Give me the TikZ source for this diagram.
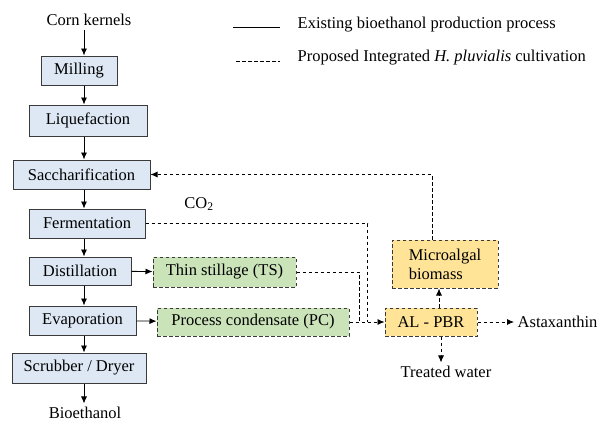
\documentclass[tikz,border=0pt]{standalone}
\usepackage{fontspec}
\setmainfont{Liberation Serif}
\usetikzlibrary{arrows.meta}

\definecolor{procblue}{HTML}{DDE8F4}
\definecolor{sidegreen}{HTML}{CBE3B9}
\definecolor{algyellow}{HTML}{FFE497}
\definecolor{edgegray}{HTML}{3A3A3A}

\begin{document}
\begin{tikzpicture}[x=1pt,y=-1pt,->,>={Latex[length=7pt,width=6pt]},line width=0.8pt,
  every node/.style={font=\rmfamily\fontsize{16.5}{19}\selectfont},
  prop/.style={dash pattern=on 3.5pt off 2.5pt},
  proc/.style={draw=edgegray,line width=1pt,fill=procblue,minimum height=29pt,inner sep=0pt},
  side/.style={draw=edgegray,line width=1pt,prop,fill=sidegreen,minimum height=29pt,inner sep=0pt},
  alga/.style={draw=edgegray,line width=1pt,prop,fill=algyellow,inner sep=0pt}]
  \useasboundingbox (0,0) rectangle (599,423);
  \coordinate (spine) at (84,0);

  % existing process
  \node (corn) at (89,20) {Corn kernels};
  \node[proc,minimum width=76pt] (mill) at (79,70.5) {Milling};
  \node[proc,minimum width=118pt,minimum height=31pt] (liq) at (88,120.5) {Liquefaction};
  \node[proc,minimum width=137pt] (sacc) at (81.5,174.5) {Saccharification};
  \node[proc,minimum width=116pt] (ferm) at (87,223.5) {Fermentation};
  \node[proc,minimum width=102pt,minimum height=28pt] (dist) at (80,271) {Distillation};
  \node[proc,minimum width=107pt] (evap) at (82.5,320.5) {Evaporation};
  \node[proc,minimum width=134pt,minimum height=30pt] (scrub) at (79,368) {Scrubber / Dryer};
  \node (bioeth) at (85,413) {Bioethanol};

  % proposed integration
  \node[side,minimum width=143pt,minimum height=30pt] (ts) at (224.5,272) {Thin stillage (TS)};
  \node[side,minimum width=192pt,minimum height=28pt] (pc) at (253,322) {Process condensate (PC)};
  \node[alga,minimum width=92pt,minimum height=28pt] (alpbr) at (431,322) {AL - PBR};
  \node[alga,minimum width=106pt,minimum height=48pt,align=left] (micro) at (445,264) {Microalgal\\biomass};
  \node[anchor=west] (asta) at (514,322) {Astaxanthin};
  \node (water) at (446,372) {Treated water};
  \node (co2) at (199,204) {CO\textsubscript{2}};

  % legend
  \draw[-] (233,27) -- (280,27);
  \node[anchor=west] (legexist) at (294,25) {Existing bioethanol production process};
  \draw[-,prop] (236,61) -- (280,61);
  \node[anchor=west] (legprop) at (294,58) {Proposed Integrated \textit{H. pluvialis} cultivation};

  \foreach \a/\b in {corn/mill,mill/liq,liq/sacc,sacc/ferm,ferm/dist,dist/evap,evap/scrub,scrub/bioeth}
    \draw (\a.south -| spine) -- (\b.north -| spine);
  \draw (dist) -- (ts);
  \draw (evap) -- (pc);

  \draw[prop] (pc) -- (alpbr);
  \draw[-,prop] (ts.east) -| ([xshift=10pt]pc.east);
  \draw[-,prop] (ferm.east) -| ([xshift=18pt]pc.east);
  \draw[prop] ([xshift=8pt]alpbr.north) -- ([xshift=-6pt]micro.south);
  \draw[prop] ([xshift=-13pt]micro.north) |- (sacc.east);
  \draw[prop] (alpbr) -- (asta);
  \draw[prop] ([xshift=10pt]alpbr.south) -- ([xshift=-5pt]water.north);
\end{tikzpicture}
\end{document}
